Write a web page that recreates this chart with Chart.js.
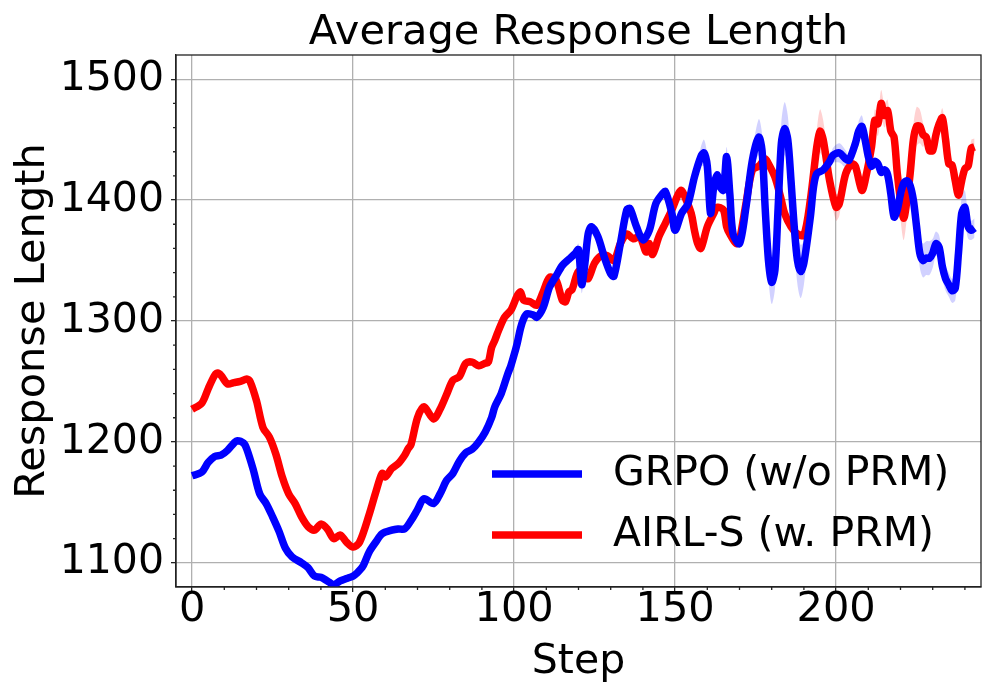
<!doctype html>
<html>
<head>
<meta charset="utf-8" />
<title>Average Response Length</title>
<script src="https://cdn.jsdelivr.net/npm/chart.js@4.4.0/dist/chart.umd.min.js"></script>
<style>
  html, body { margin:0; padding:0; background:#fff; }
  #wrap { width:996px; height:698px; }
</style>
</head>
<body>
<div id="wrap"><canvas id="myChart" width="996" height="698"></canvas></div>

<script>
// GRPO (w/o PRM)
const grpoSteps = [0,3,5,7,9,11,13,14,16,17,19,21,23,25,27,29,31,34,36,38,40,42,44,46,48,
  50,51,53,55,57,59,62,64,66,68,70,72,75,77,79,81,83,85,87,89,91,93,94,96,98,99,100,101,102,103,104,106,107,109,
  111,113,115,117,119,120,121,122,123,124,126,128,130,131,133,135,136,138,140,142,144,146,147,149,150,
  152,154,156,158,159,160,161,162,163,164,165,166,167,168,170,172,174,176,177,178,179,180,181,182,183,
  184,185,186,187,188,189,190,192,193,194,196,198,199,201,203,204,206,207,208,209,210,211,212,213,214,
  215,216,217,218,219,220,221,222,223,224,225,226,227,228,229,230,231,232,233,234,235,236,237,238,239,
  240,241,242,243];
const grpoLen = [1172,1175,1183,1188,1189,1193,1199,1201,1199,1194,1177,1157,1149,1138,1126,1112,1105,1100,1096,1089,1088,1085,1082,1085,1087,
  1089,1091,1097,1109,1117,1124,1127,1128,1128,1135,1144,1153,1149,1157,1168,1174,1184,1191,1194,1200,1208,1220,1229,1240,1256,1263,1272,1282,1294,1302,1306,1305,1303,1311,
  1328,1337,1346,1351,1356,1359,1330,1348,1372,1378,1370,1353,1339,1337,1364,1392,1393,1378,1367,1375,1397,1405,1407,1389,1375,
  1389,1397,1419,1436,1439,1428,1389,1411,1421,1411,1408,1436,1405,1372,1364,1394,1433,1452,1441,1392,1350,1332,1342,1394,1447,
  1459,1450,1416,1378,1350,1341,1348,1386,1411,1422,1425,1432,1437,1439,1434,1433,1447,1457,1461,1450,1436,1428,1432,1430,1423,
  1425,1421,1405,1386,1392,1405,1414,1416,1412,1400,1378,1356,1350,1352,1352,1356,1364,1361,1345,1335,1330,1325,1327,1356,1389,
  1394,1378,1375,1377];
// half width of the shaded band where it is wider than usual
const grpoBand = {119:4,120:5,121:7,122:5,158:8,159:11,160:9,161:8,166:8,174:8,176:15,177:14,178:12,179:16,180:18,
  181:16,182:14,183:18,184:22,185:20,186:16,187:16,188:20,189:22,190:18,192:10,193:8,199:6,201:8,203:7,207:8,208:9,209:7,
  225:8,226:12,227:14,228:14,229:14,230:12,231:10,232:10,233:10,234:10,235:10,236:10,237:10,238:12,239:14,240:14,241:10,242:8,243:8};

// AIRL-S (w. PRM)
const airlSteps = [0,3,5,7,8,9,11,13,15,17,18,20,22,24,26,28,30,32,34,36,38,40,42,44,46,48,50,52,55,57,59,60,62,64,66,67,68,
  70,72,75,77,79,81,83,85,87,89,91,92,93,94,95,97,99,101,102,103,105,107,109,111,113,115,116,117,118,120,122,123,125,127,129,131,
  133,135,137,139,140,141,142,143,145,147,149,151,152,153,155,156,157,158,160,162,163,165,166,167,169,170,172,174,176,178,179,
  181,183,184,186,188,190,192,194,195,196,198,200,201,203,205,206,208,209,211,212,213,214,215,216,217,218,219,220,221,222,223,
  224,225,226,227,228,229,230,231,232,233,234,235,236,237,238,239,240,241,242,243];
const airlLen = [1227,1232,1244,1255,1257,1255,1248,1249,1250,1252,1250,1234,1212,1204,1190,1171,1157,1149,1138,1130,1127,1132,1128,1120,1123,1117,1113,1117,1140,1158,1174,1171,1178,1182,1189,1194,1198,
  1220,1229,1219,1227,1239,1251,1254,1265,1266,1263,1265,1266,1278,1284,1291,1303,1309,1321,1324,1317,1316,1313,1324,1336,1334,1317,1316,1324,1326,1341,1337,1335,1348,1354,1354,1350,
  1364,1372,1368,1370,1364,1357,1364,1355,1370,1381,1392,1405,1408,1403,1389,1375,1364,1360,1378,1389,1394,1392,1378,1372,1364,1367,1397,1425,1428,1434,1430,
  1419,1400,1389,1378,1372,1371,1400,1444,1457,1450,1416,1394,1397,1422,1430,1428,1408,1416,1444,1466,1463,1480,1470,1474,1457,1452,1422,1400,1385,1400,1422,
  1450,1461,1461,1454,1452,1441,1441,1454,1463,1468,1450,1430,1429,1416,1404,1416,1426,1428,1443,1444];
const airlBand = {194:14,195:18,196:16,198:10,200:11,201:10,212:9,213:10,214:11,215:10,216:9,219:12,220:16,221:18,222:14,
  224:12,225:16,226:14,227:10,233:8,234:8,242:7,243:7};
const BAND_DEFAULT = 3;

const xTicks = [0, 50, 100, 150, 200];
const xMinorStep = 10;
const yTicks = [1100, 1200, 1300, 1400, 1500];

const FONT = "'DejaVu Sans', sans-serif";
const INK = '#222';
const GRID = '#b0b0b0';
const NONE = 'rgba(0,0,0,0)';
const LINE_W = 7.5;

const toPoints = (steps, vals) => steps.map((s, i) => ({x: s, y: vals[i]}));
const bandPoints = (steps, vals, wide, sign) =>
  steps.map((s, i) => ({x: s, y: vals[i] + sign * (wide[s] || BAND_DEFAULT)}));

function lineSet(label, steps, vals, color, order) {
  return { label, data: toPoints(steps, vals), borderColor: color, borderWidth: LINE_W,
    pointRadius: 0, tension: 0.3, fill: false, order };
}
function bandSet(steps, vals, wide, sign, fillColor, order) {
  return { label: '', data: bandPoints(steps, vals, wide, sign), borderWidth: 0, borderColor: NONE,
    backgroundColor: fillColor, pointRadius: 0, tension: 0.3, fill: sign < 0 ? '-1' : false, order };
}

// box, short minor ticks and the in-plot legend
const framePlugin = {
  id: 'frame',
  afterDraw(chart) {
    const {ctx, chartArea: a, scales} = chart;
    ctx.save();
    ctx.strokeStyle = INK;
    ctx.lineWidth = 1.3;
    ctx.strokeRect(a.left, a.top, a.right - a.left, a.bottom - a.top);
    ctx.beginPath();
    scales.x.ticks.forEach(t => {
      if (!xTicks.includes(t.value)) {
        const px = scales.x.getPixelForValue(t.value);
        ctx.moveTo(px, a.bottom); ctx.lineTo(px, a.bottom + 3);
      }
    });
    scales.y.ticks.forEach(t => {
      if (!yTicks.includes(t.value) && t.value > scales.y.min && t.value < scales.y.max) {
        const py = scales.y.getPixelForValue(t.value);
        ctx.moveTo(a.left, py); ctx.lineTo(a.left - 3, py);
      }
    });
    ctx.stroke();

    const items = [chart.data.datasets[0], chart.data.datasets[1]];
    ctx.font = '41px ' + FONT;
    ctx.textBaseline = 'middle';
    ctx.fillStyle = '#000';
    items.forEach((d, i) => {
      const y = a.bottom - 113 + i * 61;
      ctx.strokeStyle = d.borderColor;
      ctx.lineWidth = LINE_W;
      ctx.beginPath();
      ctx.moveTo(a.right - 489, y); ctx.lineTo(a.right - 399, y);
      ctx.stroke();
      ctx.fillText(d.label, a.right - 368, y);
    });
    ctx.restore();
  }
};

new Chart(document.getElementById('myChart'), {
  type: 'line',
  data: {
    datasets: [
      lineSet('GRPO (w/o PRM)', grpoSteps, grpoLen, '#0000ff', 0),
      lineSet('AIRL-S (w. PRM)', airlSteps, airlLen, '#ff0000', 1),
      bandSet(grpoSteps, grpoLen, grpoBand, 1, NONE, 3),
      bandSet(grpoSteps, grpoLen, grpoBand, -1, 'rgba(0,0,255,0.18)', 3),
      bandSet(airlSteps, airlLen, airlBand, 1, NONE, 2),
      bandSet(airlSteps, airlLen, airlBand, -1, 'rgba(255,0,0,0.18)', 2)
    ]
  },
  options: {
    responsive: false,
    animation: false,
    layout: { padding: { left: 0, right: 15, top: 0, bottom: 0 } },
    plugins: {
      legend: { display: false },
      tooltip: { enabled: false },
      title: {
        display: true, text: 'Average Response Length', color: '#000', fullSize: false,
        font: { family: FONT, size: 41.5, weight: 'normal', lineHeight: 1 },
        padding: { top: 12, bottom: 1.5 }
      }
    },
    scales: {
      x: {
        type: 'linear', min: -5, max: 245,
        afterFit: s => { s.height = 111; },
        afterBuildTicks: s => {
          const t = [];
          for (let v = 0; v <= 240; v += xMinorStep) t.push({ value: v });
          s.ticks = t;
        },
        border: { color: INK, width: 1.3 },
        grid: {
          color: c => (c.tick && xTicks.includes(c.tick.value)) ? GRID : NONE,
          tickColor: c => (c.tick && xTicks.includes(c.tick.value)) ? INK : NONE,
          lineWidth: 1.3, tickWidth: 1.3, tickLength: 5
        },
        ticks: {
          autoSkip: false, maxRotation: 0, color: '#000', padding: -7,
          font: { family: FONT, size: 41.5 },
          callback: v => xTicks.includes(v) ? String(v) : ''
        },
        title: { display: true, text: 'Step', color: '#000',
          font: { family: FONT, size: 41, lineHeight: 1 }, padding: { top: 0, bottom: 15 } }
      },
      y: {
        type: 'linear', min: 1080, max: 1520,
        afterFit: s => { s.width = 176; },
        border: { color: INK, width: 1.3 },
        grid: {
          color: c => (c.tick && yTicks.includes(c.tick.value)) ? GRID : NONE,
          tickColor: c => (c.tick && yTicks.includes(c.tick.value)) ? INK : NONE,
          lineWidth: 1.3, tickWidth: 1.3, tickLength: 5
        },
        ticks: {
          stepSize: 20, autoSkip: false, color: '#000', padding: 7,
          font: { family: FONT, size: 41 },
          callback: v => yTicks.includes(v) ? String(v) : ''
        },
        title: { display: true, text: 'Response Length', color: '#000',
          font: { family: FONT, size: 41.5, lineHeight: 1 }, padding: { top: 12, bottom: 0 } }
      }
    }
  },
  plugins: [framePlugin]
});
</script>
</body>
</html>
